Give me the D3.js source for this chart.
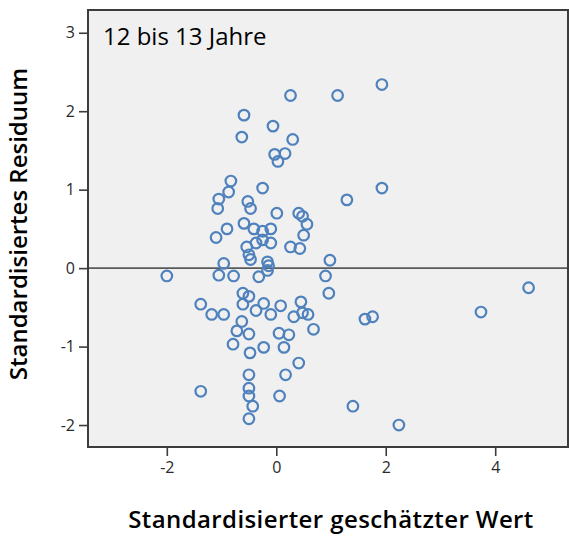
<!DOCTYPE html>
<html><head><meta charset="utf-8">
<script src="https://cdn.jsdelivr.net/npm/d3@7"></script>
<style>body{margin:0;background:#fff;} svg{display:block;}</style>
</head><body>
<script>
const title = "12 bis 13 Jahre";
const xLabel = "Standardisierter geschätzter Wert";
const yLabel = "Standardisiertes Residuum";
const xTicks = [-2, 0, 2, 4];
const yTicks = [-2, -1, 0, 1, 2, 3];
const predicted = [
 -0.59,-0.63,-0.06,0.26,1.12,1.93,0.30,-0.03,0.16,0.03,
 -0.83,-0.87,-1.05,-1.07,-0.25,-0.52,-0.47,0.01,-0.59,-0.90,
 -1.10,-0.41,-0.25,-0.10,-0.37,-0.25,-0.10,-0.54,-0.50,-0.47,
 -0.16,-0.14,-0.16,-0.96,-1.05,-0.78,-0.32,-2.00,-0.61,-0.50,
 -1.38,-0.61,-0.23,0.08,-1.18,-0.96,-0.37,-0.10,-0.63,-0.72,
 -0.50,-0.79,-0.48,-0.23,0.05,0.23,-0.50,-0.50,-0.50,-0.43,
 -0.50,-1.38,0.06,0.45,0.32,0.48,0.58,0.68,0.14,0.41,
 0.17,1.62,1.76,1.40,2.24,1.29,1.93,0.41,0.48,0.56,
 0.50,0.26,0.43,0.98,0.90,0.96,4.61,3.74
];
const residual = [
 1.95,1.67,1.81,2.20,2.20,2.34,1.64,1.45,1.46,1.36,
 1.11,0.97,0.88,0.76,1.02,0.85,0.76,0.70,0.57,0.50,
 0.39,0.50,0.47,0.50,0.32,0.36,0.32,0.27,0.17,0.11,
 0.08,0.03,-0.03,0.06,-0.09,-0.10,-0.11,-0.10,-0.32,-0.36,
 -0.46,-0.46,-0.45,-0.48,-0.59,-0.59,-0.54,-0.59,-0.68,-0.80,
 -0.84,-0.97,-1.08,-1.01,-0.83,-0.85,-1.36,-1.53,-1.63,-1.76,
 -1.92,-1.57,-1.63,-0.43,-0.62,-0.57,-0.59,-0.78,-1.01,-1.21,
 -1.36,-0.65,-0.62,-1.76,-2.00,0.87,1.02,0.70,0.66,0.56,
 0.42,0.27,0.25,0.10,-0.10,-0.32,-0.25,-0.56
];
const points = predicted.map((x, i) => ({x, y: residual[i]}));

const W = 569, H = 536;
const pL = 88, pR = 568, pT = 10, pB = 447;
const svg = d3.select("body").append("svg").attr("width", W).attr("height", H);

const x = d3.scaleLinear().domain([-3.44, 5.33]).range([pL, pR]);
const y = d3.scaleLinear().domain([-2.28, 3.29]).range([pB, pT]);

svg.append("rect").attr("x", pL).attr("y", pT)
  .attr("width", pR - pL).attr("height", pB - pT)
  .attr("fill", "#f0f0f0");

svg.append("line").attr("x1", pL).attr("x2", pR)
  .attr("y1", y(0)).attr("y2", y(0))
  .attr("stroke", "#5a5a5a").attr("stroke-width", 1.6);

svg.append("g").selectAll("circle").data(points).join("circle")
  .attr("cx", d => x(d.x)).attr("cy", d => y(d.y)).attr("r", 5.3)
  .attr("fill", "none").attr("stroke", "#4f82bd").attr("stroke-width", 2.2);

svg.append("rect").attr("x", pL).attr("y", pT)
  .attr("width", pR - pL).attr("height", pB - pT)
  .attr("fill", "none").attr("stroke", "#3c3c3c").attr("stroke-width", 2);

const xAxis = svg.append("g").attr("transform", `translate(0,${pB})`)
  .call(d3.axisBottom(x).tickValues(xTicks).tickSize(9).tickPadding(6).tickFormat(d3.format("d")));
const yAxis = svg.append("g").attr("transform", `translate(${pL},0)`)
  .call(d3.axisLeft(y).tickValues(yTicks).tickSize(9).tickPadding(4).tickFormat(d3.format("d")));
[xAxis, yAxis].forEach(g => {
  g.select(".domain").remove();
  g.selectAll(".tick line").attr("stroke", "#3c3c3c").attr("stroke-width", 1.6);
  g.selectAll(".tick text").attr("fill", "#2a2a2a")
    .style("font-family", "'Open Sans', sans-serif").style("font-size", "16px");
});
yAxis.selectAll(".tick text").text(d => d < 0 ? "-" + Math.abs(d) : d);
xAxis.selectAll(".tick text").text(d => d < 0 ? "-" + Math.abs(d) : d);

svg.append("text").attr("x", 103).attr("y", 45).text(title)
  .style("font-family", "'Open Sans', sans-serif").style("font-size", "24px")
  .style("font-weight", 500).attr("fill", "#000");

svg.append("text").attr("x", 331).attr("y", 528).attr("text-anchor", "middle").text(xLabel)
  .style("font-family", "'Open Sans', sans-serif").style("font-size", "24px")
  .style("letter-spacing", "0.4px")
  .style("font-weight", 600).attr("fill", "#000");

svg.append("text").attr("transform", "translate(27,224) rotate(-90)")
  .attr("text-anchor", "middle").text(yLabel)
  .style("font-family", "'Open Sans', sans-serif").style("font-size", "24px")
  .style("font-weight", 600).attr("fill", "#000");
</script>
</body></html>
